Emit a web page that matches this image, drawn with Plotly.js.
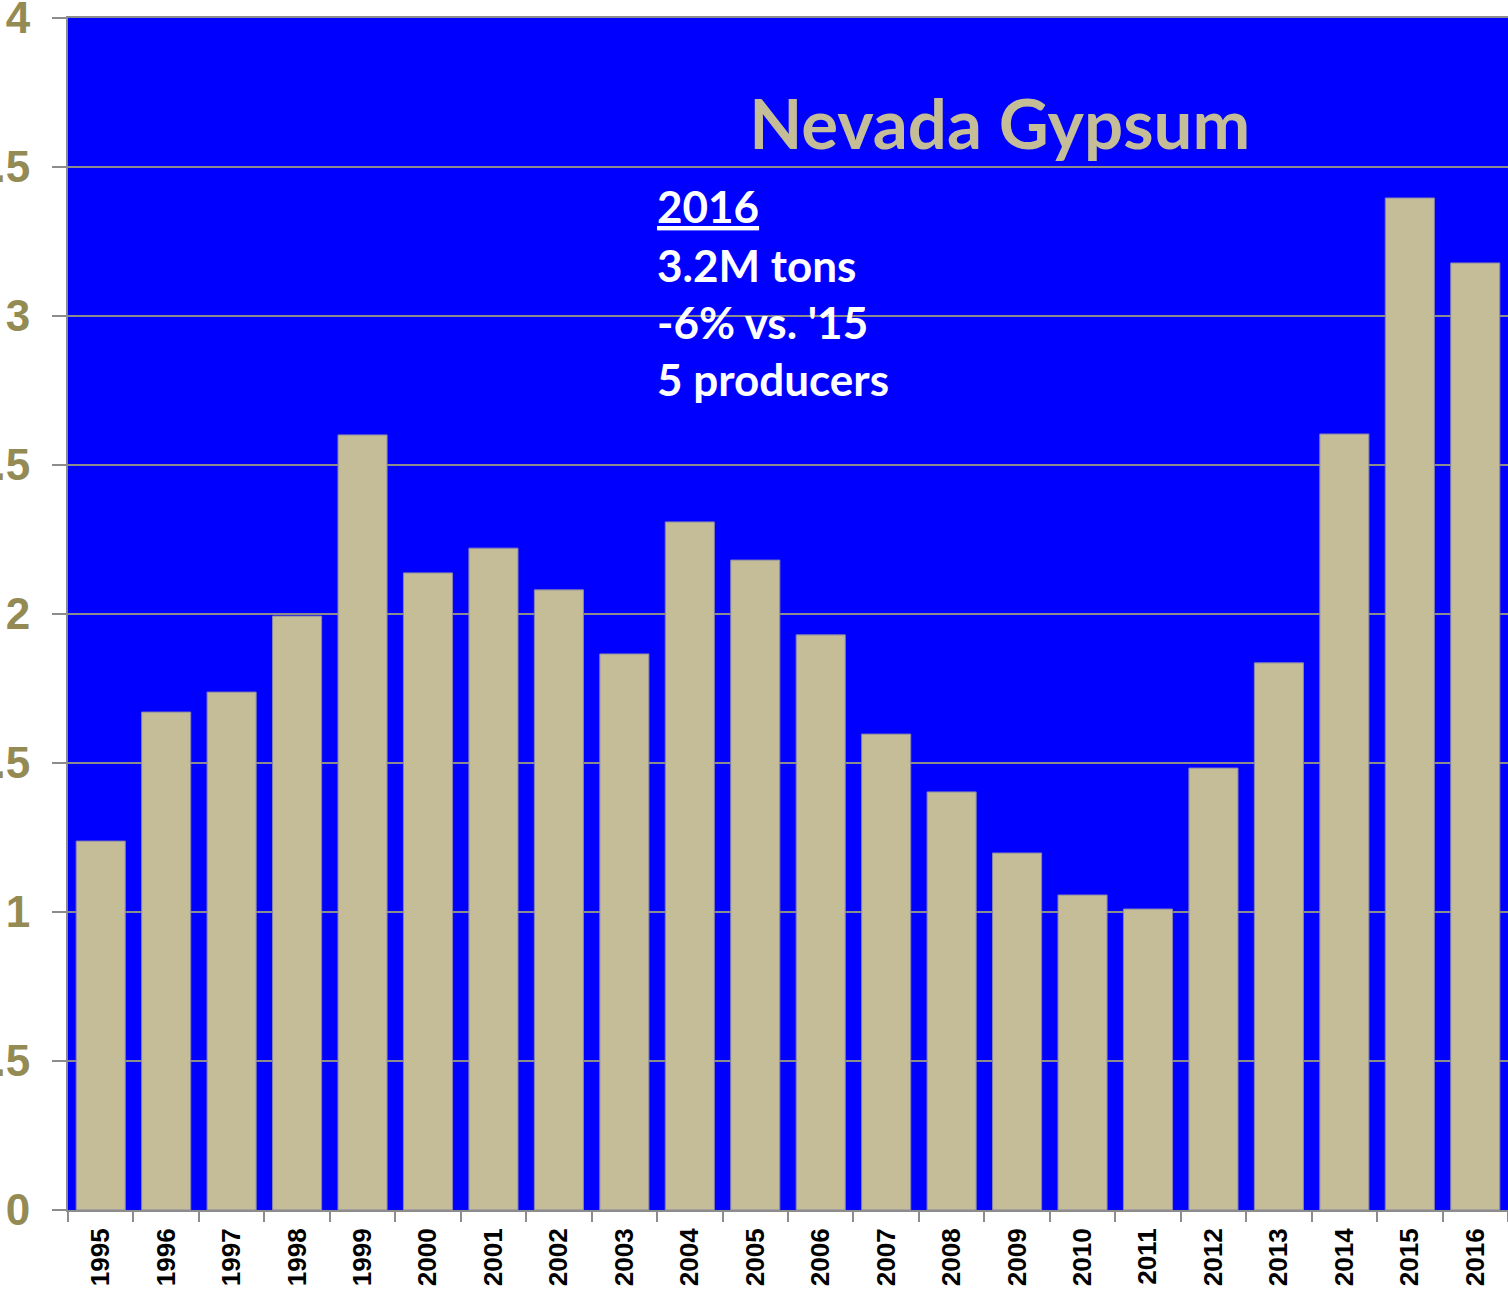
<!DOCTYPE html>
<html>
<head>
<meta charset="utf-8">
<script src="https://cdn.plot.ly/plotly-3.0.1.min.js"></script>
<style>
html,body{margin:0;padding:0;background:#fff;overflow:hidden;}
#chart{width:1508px;height:1290px;}
</style>
</head>
<body>
<div id="chart"></div>
<script>
const years = ['1995','1996','1997','1998','1999','2000','2001','2002','2003','2004','2005','2006','2007','2008','2009','2010','2011','2012','2013','2014','2015','2016'];
const production = [1.238,1.671,1.738,1.993,2.601,2.138,2.221,2.081,1.866,2.309,2.181,1.930,1.597,1.403,1.198,1.057,1.010,1.483,1.836,2.604,3.396,3.178];
const titleText = 'Nevada Gypsum';
const noteLines = ['<u>2016</u>', '3.2M tons', "-6% vs. '15", '5 producers'];
const noteY = [0.842, 0.793, 0.745, 0.697];

const olive = '#948A54';
const tan = '#C4BD97';
const grey = '#8C8C8C';

const trace = {
  type: 'bar',
  x: years,
  y: production,
  marker: {color: tan, line: {color: '#8884A8', width: 1}},
  hoverinfo: 'x+y'
};

const annotations = noteLines.map((t, i) => ({
  xref: 'paper', yref: 'paper',
  x: 0.4076, y: noteY[i],
  xanchor: 'left', yanchor: 'middle',
  text: '<b>' + t + '</b>',
  showarrow: false,
  font: {family: 'Lato, Open Sans, sans-serif', size: 44, color: '#FFFFFF'}
}));

const layout = {
  width: 1508, height: 1290,
  margin: {l: 68, r: 0, t: 18, b: 80, pad: 0},
  paper_bgcolor: '#FFFFFF',
  plot_bgcolor: '#0000FF',
  showlegend: false,
  bargap: 0.25,
  title: {
    text: '<b>' + titleText + '</b>',
    xref: 'paper', yref: 'paper',
    x: 0.647, y: 0.910, xanchor: 'center', yanchor: 'middle',
    font: {family: 'Lato, Open Sans, sans-serif', size: 69, color: tan}
  },
  xaxis: {
    type: 'category',
    tickangle: -90,
    tickson: 'boundaries',
    ticks: 'outside', ticklen: 10, tickwidth: 2, tickcolor: grey,
    showline: true, linecolor: grey, linewidth: 2, mirror: true,
    showgrid: false,
    automargin: false,
    ticklabelstandoff: 6,
    ticklabeloverflow: 'allow',
    tickfont: {family: 'Arial, Liberation Sans, sans-serif', size: 26, color: '#000000', weight: 'bold'}
  },
  yaxis: {
    range: [0, 4],
    dtick: 0.5, tick0: 0,
    ticks: 'outside', ticklen: 14, tickwidth: 2, tickcolor: grey,
    showline: true, linecolor: grey, linewidth: 2,
    showgrid: true, gridcolor: grey, gridwidth: 1.5,
    zeroline: false,
    automargin: false,
    ticklabelstandoff: 13,
    ticklabeloverflow: 'allow',
    tickfont: {family: 'Arial, Liberation Sans, sans-serif', size: 44, color: olive, weight: 'bold'}
  },
  annotations: annotations
};

Plotly.newPlot('chart', [trace], layout, {displayModeBar: false, staticPlot: true});
</script>
</body>
</html>
